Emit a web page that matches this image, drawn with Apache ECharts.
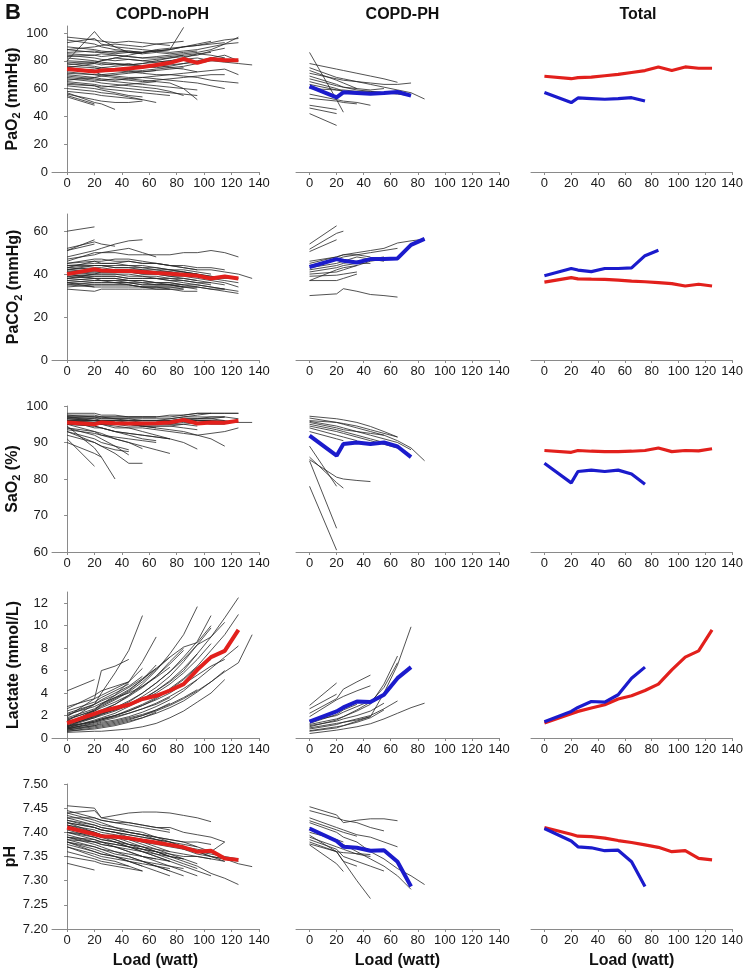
<!DOCTYPE html>
<html><head><meta charset="utf-8">
<script src="https://cdn.jsdelivr.net/npm/echarts@6/dist/echarts.min.js"></script>
<style>html,body{margin:0;padding:0;background:#fff}#c{width:746px;height:970px}</style>
</head><body><div id="c"></div>
<script>
// ---------- DATA ----------
const LOADS = [0, 20, 25, 35, 45, 55, 65, 75, 85, 95, 105, 115, 125, 135];
const X_TICKS = [0, 20, 40, 60, 80, 100, 120, 140];
const COLUMN_TITLES = ['COPD-noPH', 'COPD-PH', 'Total'];
const X_NAME = 'Load (watt)';

const PAO2_TICKS = [0, 20, 40, 60, 80, 100];
const PACO2_TICKS = [0, 20, 40, 60];
const SAO2_TICKS = [60, 70, 80, 90, 100];
const LACTATE_TICKS = [0, 2, 4, 6, 8, 10, 12];
const PH_TICKS = [7.20, 7.25, 7.30, 7.35, 7.40, 7.45, 7.50];

// group means (values at LOADS)
const PAO2_MEAN_NOPH = [74.1,72.2,73,73.5,74.5,75.5,77,78.5,81.3,78.5,81.3,80.3,80.3];
const PAO2_MEAN_PH = [61.6,53.7,57.3,56.8,56.3,56.8,57.5,54.9];
const PACO2_MEAN_NOPH = [40,42.3,41.7,41.5,41.4,41,40.5,40.2,39.7,39.2,38,38.9,38];
const PACO2_MEAN_PH = [43.3,47,46.2,45.4,47,47,47.3,53.6,56.4];
const SAO2_MEAN_NOPH = [95.5,95,95.5,95.3,95.2,95.2,95.3,95.5,96.2,95.2,95.5,95.4,96];
const SAO2_MEAN_PH = [91.9,86.4,89.6,90,89.6,90,88.9,86];
const LACTATE_MEAN_NOPH = [1.33,2.16,2.37,2.67,2.96,3.47,3.76,4.23,4.8,6.07,7.2,7.76,9.63];
const LACTATE_MEAN_PH = [1.45,2.37,2.72,3.25,3.2,3.85,5.33,6.31];
const PH_MEAN_NOPH = [7.41,7.396,7.392,7.391,7.388,7.383,7.379,7.374,7.369,7.36,7.362,7.346,7.343];
const PH_MEAN_PH = [7.408,7.382,7.37,7.368,7.362,7.363,7.339,7.288];

// individual patients (values at LOADS, each list runs until the last load reached)
const PAO2_NOPH = [
[93,96,92,90,89,88,87,88,90,91,93,95,96],[97,95,94,93,94,93,92,91],[80,101,95,90,86,85],
[90,88,87,86,87,86,87,88,104],[88,86,86,87,86,86,87,86,87,88,90,92,93],[86,87,86,85,86,85,86,85,86,87],
[85,84,83,84,83,82,83,84,85,86,88,92,97],[84,82,81,80,81,80,79,80,81,82,80,79,78,77],
[83,84,85,84,83,82,82,83,84,85,86],[82,80,79,78,77,78,79,80,82,85,84,82],
[80,79,78,77,78,76,75,76,78,80,82,84,80],[79,78,77,78,77,76,77,75,74,72],[78,76,75,74,73,72,73,74,75],
[77,79,80,82,81,80,81,82,83,84,87,89],[76,75,74,73,72,71,70,70,69,68,66,65,64],
[75,73,72,73,74,75,76,77,78,79],[74,72,70,69,68,68,67,66,65,64,62,60],[73,74,75,76,77,78,80,82,84],
[72,70,69,68,67,66,65,64,60,52],[71,70,70,71,72,73,74,75,76,78,80,82],[70,68,67,66,67,68,69,70,71,72,73,74,70],
[69,67,66,65,64,63,62,61,60,59],[68,66,66,67,66,65,66,67,68,69,70,70],[67,65,64,63,62,61,60,58,55],
[66,68,69,70,71,72,73],[65,63,62,61,60,59,58,57,56,55],[64,62,60,59,58,57,56,55],[63,62,61,62,63,64,65],
[62,60,59,57,55,54],[60,58,57,56,54,52,50],[58,56,55,54,53,52],[57,50,49,45],[55,49],[54,48],
[56,52,51,50,50,51],[88,90,91,92,91,90,92,93,94],[95,92,90,88,87,86,87,88,90,92,94],
[75,78,80,82,84,86,88,89,90,91,92,93]
];
const PAO2_PH = [
[86,52,43],[78,74,73,71,69,67,64.5],[75,68,67,65,63,61,59,57,52.5],[73,66,64,60],[71,67,66,65,64,63,63,64],
[69,63,61,59,58,57],[67,62,61,60,59,60],[65,60,58],[63,59,58,57,57,57,58],[60,59,59,58,58,57,56,55],
[56,52,51,50,48],[48,45],[46,42],[42,33.5],[53,51,50,49]
];
const PACO2_NOPH = [
[60,62],[51,56],[51,54],[52,55,54,53],[48,51,52,54,55.5,56],[47,49,50,51,52,50,48],
[46,50,50,50,49,49,49,49,50,50,51,50,48],[45,47,47,46,46,45,45,44,44,43,43,42],[45,46,45,45,44,44,43,42,42,41,40],
[44,45,45,45,46,45,45,44,43,42,42,41,40,38],[44,44,44,43,43,43,42,42,41,40],[43,44,44,44,44,43,43,42,41,40,39,38],
[43,42,42,42,41,41,41,40,40,39,38,37,36],[42,43,43,42,42,42,41,41,41,40],[42,41,41,41,41,40,40,39,39,38,37,36,34],
[41,42,42,42,42,41,41,40],[41,40,40,40,39,39,38,38,37,36,35],[40,41,41,41,41,41,41,41,40,40,39,38,38],
[40,39,39,39,38,38,38,37,36,35,34,33],[39,40,40,40,40,39,39,38,38,37],[39,38,38,38,37,37,36,36,35,35,34,33,32],
[38,39,39,39,38,38,38,37,37,36,36],[38,37,37,37,36,36,35,35,34,33],[37,38,38,38,37,37,36,36,35],
[37,36,36,36,36,35,35,35,34,34,33,32,31],[36,37,37,37,37,36,36,35,35,34],[36,35,35,35,35,34,34,34,33],
[35,36,36,36,36,35,35,35,34,34,33,33],[35,34,34,34,34,34,33,33,33],[34,35,35,35,35,34,34,34,34],
[33,32,33,33,33,33,33,33,32,32],[42,44,44,43,43,42,42,41,40,39,38],[38,40,41,41,41,40,40,39,38,37,36,35],
[40,38,37,36,35,34,34,33],[43,46,46,47,47,46,45,44,43,42],[36,34]
];
const PACO2_PH = [
[54,62.5],[51.6,59,60],[50.5,56],[30,30.8,33.2,32,30.5,30,29.3],[45,48,49,50,51,52,54.5,55.5,56.3],
[44,47,48,49,50,51,52],[46,48,49,49,48],[42,44,45,46,47,48],[41,43,44,45,45],[37,37,38,40],
[37,42,43,44],[40,41,42,44,46,47],[39,39.5,40,41],[43,45,46,48,47,46]
];
const SAO2_NOPH = [
[98,98,97.5,97.5,97,97,97,97,97.5,98,98,98,98],[97.5,97,97,97,97,97,97,97.5,97.5,98,98],
[97,97,97,96.5,96.5,96.5,96.5,96.5,97,97,97,97,96.5],[97,96.5,96.5,96.5,96.5,96,96,96,96.5,96.5,96.5,96,95.5,95.5],
[96.5,96.5,96,96,96,96,96,96,96.5,96.5,97,97],[96.5,96,96,96,95.5,95.5,95.5,96,96,96,96,95.5,95.5],
[96,96,96,95.5,95.5,95.5,95.5,95.5,96,96,96],[96,95.5,95.5,95.5,95,95,95,95,95.5,95.5,95,95],
[96,95.5,95,95,95,94.5,94.5,94.5,95,95.5,96],[95.5,95.5,95.5,95,95,95,95,95.5,96,96.5,96.5,97],
[95.5,95,95,94.5,94,94,93.5,93,92.5,92,92.5,93,94],[96,96,95.5,95,95,94.5,94,93.5,93,92,91,89],
[96,95,95,94,94,93,92,91,90,88.2],[95,94.5,94,93,92.5,92,91.5,91],[96,94,94,93,92,91,90.5],
[95,93,92.5,91,90,88.3],[94,92,91,89,86.6],[93,90,89,87,84.3,84.3],[94.5,88.5,86,80],[91,83.5],[90,87,86],
[93,91,90,89,88],[97,96,96,95.5,95,94.5,94],[95,94.5,94,93,92.5,92,91.5,91],
[96.5,96,96,96,96,95.5,95.5,95,95,94.5],[97.5,97.5,97,97,97,97,97],[95.5,95.5,95,95,95,95,95.5,95.5,96,96,96,96],
[94,93,92,91,90,89,88,87],[96,95,95,95,94.5,94.5,94.5,94.5,94,93.5],
[97,97,96.5,96.5,96,96,96,96.5,97,97.5,98,98,98],[92,90,89,88,87.5],[93.5,92.5,92,91.5,91,90.5,90]
];
const SAO2_PH = [
[97.2,96.5,96.2,95.5,94.4,93,91.5],[96.7,95.5,95,94,93,92,90.5,88.5,85],[96,95.5,95.2,94.5,93.5,92.5,91.5],
[95.8,94.5,94,93,92,91,90,88],[95.5,94,93.5,93,92.5,92],[95,93.5,93,92,91,90],[94.5,93,92.5,91.5,90.5,89.5,88.5],
[94,92,91.5,90.5],[93,91,90.5],[89,78],[85.3,80.5,80,79.6,79.3],[78,60.5],[85,66.5],[86,79,77.5]
];
const LACTATE_NOPH = [
[4.2,5.2],[1.5,3.0,4.0,5.8,7.8,10.9],[1.9,3.5,6.0,6.4,7.0],[1.2,2.5,3.0,3.8,5.0,6.8,9.0],
[1.0,2.0,2.4,3.0,3.8,4.8,6.0,7.5,9.2,11.7],[0.9,1.6,1.8,2.2,2.8,3.4,4.2,5.0,6.0,7.5,9.0,10.7,12.5],
[0.8,1.4,1.6,2.0,2.5,3.0,3.6,4.4,5.3,6.4,7.8,9.2,11],[0.8,1.3,1.5,1.8,2.2,2.6,3.1,3.7,4.4,5.2,6.2,7.2,8.2],
[0.7,1.1,1.2,1.4,1.7,2.0,2.4,2.9,3.5,4.2,5.0,5.9,6.7,9.2],[1.1,1.9,2.2,2.7,3.3,4.0,4.9,5.9,7.2,8.6,10.9],
[1.3,2.4,2.8,3.4,4.1,5.0,6.1,7.2,8.1,8.5,10],[1.0,1.8,2.1,2.5,3.0,3.7,4.5,5.5,6.8,8.3,9.8],
[0.9,1.5,1.7,2.0,2.4,2.9,3.4,4.0,4.8,5.6,6.4,7.0],[0.5,0.6,0.6,0.7,0.8,1.0,1.3,1.8,2.4,3.2,4.0,5.2],
[1.6,2.5,2.9,3.5,4.2,5.2,6.5],[2.0,3.0,3.4,4.0,4.6,5.5],[2.4,3.2,3.6,4.2,4.8],[1.8,2.6,3.0,3.6,4.3,5.2,6.2,7.2],
[2.6,3.8,4.2,4.6,5.0,6.2],[1.4,2.2,2.5,3.0,3.7,4.5,5.5,6.8,8.0],[1.2,1.8,2.0,2.4,2.9,3.5,4.2,5.1,6.2,7.5],
[1.0,1.5,1.7,2.0,2.4,2.9,3.5,4.3,5.2,6.3,7.0],[0.9,1.2,1.4,1.6,1.9,2.3,2.8,3.4,4.2,5.2],
[0.7,1.0,1.1,1.3,1.6,2.0,2.5,3.1],[0.6,0.8,0.9,1.1,1.4,1.8,2.3],[1.5,2.0,2.2,2.5,2.9,3.4,4.0,4.8,5.8,7.0,8.4],
[2.2,3.0,3.3,3.8,4.5,5.3,6.2],[1.7,2.4,2.7,3.2,3.8,4.6,5.5,6.6,7.8],[0.8,1.1,1.3,1.5,1.8,2.1,2.5,3.0,3.6,4.3],
[1.1,1.4,1.6,1.9,2.2,2.6,3.0,3.6],[2.8,3.5,3.8,4.4,5.0],[1.3,1.9,2.1,2.6,3.2,4.0,4.9,5.9,7.0,8.3,9.0,10.3],
[2.1,2.8,3.1,3.6,4.0,4.6,5.4,6.3],[0.6,0.9,1.0,1.2,1.5,1.8,2.2,2.7,3.3,4.1,5.0,6.0]
];
const LACTATE_PH = [
[2.9,4.9],[2.6,3.9],[2.2,3.5,4.35,5.0,5.6],[1.9,3.4,3.7,4.2,4.65],[0.9,1.3,1.4,1.6,1.9,4.0,6.5,9.9],
[1.2,1.7,1.9,2.4,3.0,4.8,7.3],[1.0,1.6,1.9,2.5,3.2,4.5,6.7],[0.4,0.7,0.8,1.0,1.27,1.7,2.2,2.7,3.1],
[0.65,1.0,1.1,1.5,1.9],[1.1,1.5,1.7,2.0,2.4,3.1],[0.8,1.2,1.4,1.7,2.0,2.6,3.3],[1.5,2.0,2.3,2.8,3.3],
[0.6,0.9,1.1,1.4,1.8,2.5],[1.3,2.1,2.5,3.0]
];
const PH_NOPH = [
[7.455,7.45,7.43,7.435,7.44,7.442,7.442,7.44,7.435,7.43,7.422],[7.336,7.322],
[7.41,7.4,7.395,7.39,7.38,7.37,7.36,7.35,7.34,7.33,7.315,7.305,7.292],
[7.42,7.41,7.405,7.4,7.395,7.39,7.385,7.38,7.37,7.36,7.35,7.345,7.335,7.329],
[7.445,7.43,7.425,7.42,7.415,7.41,7.405,7.4],[7.44,7.425,7.42,7.41,7.405,7.4,7.39,7.385,7.38,7.37],
[7.435,7.42,7.415,7.41,7.4,7.395,7.39,7.38,7.37,7.36,7.35,7.34],
[7.43,7.415,7.41,7.405,7.4,7.395,7.385,7.375,7.365,7.355,7.35,7.345,7.34],
[7.43,7.43,7.425,7.42,7.42,7.415,7.41,7.41,7.4,7.395,7.39,7.38],[7.425,7.41,7.405,7.4,7.39,7.38,7.37,7.36],
[7.42,7.41,7.405,7.4,7.395,7.39,7.385,7.38,7.375,7.37,7.36],[7.42,7.4,7.395,7.385,7.375,7.365,7.355,7.345,7.335,7.325],
[7.415,7.405,7.4,7.395,7.39,7.385,7.38,7.375,7.37,7.365,7.36,7.38],[7.41,7.395,7.39,7.385,7.375,7.37,7.36,7.35,7.345],
[7.41,7.4,7.39,7.38,7.37,7.36,7.35,7.34,7.33,7.32,7.31],[7.405,7.39,7.385,7.38,7.375,7.37,7.365,7.36,7.355,7.35,7.345,7.34],
[7.4,7.39,7.385,7.38,7.37,7.36,7.35,7.34],[7.4,7.385,7.38,7.37,7.36,7.35,7.34,7.33,7.32,7.31],
[7.395,7.38,7.375,7.37,7.365,7.36,7.355,7.35,7.345],[7.39,7.38,7.375,7.37,7.36,7.35,7.345,7.34],
[7.39,7.375,7.37,7.36,7.35,7.34,7.33,7.32,7.31],[7.385,7.37,7.365,7.36,7.355,7.35,7.345],
[7.38,7.37,7.365,7.355,7.35,7.34,7.33,7.32],[7.38,7.36,7.355,7.35,7.34,7.33],
[7.375,7.36,7.355,7.35,7.345,7.34,7.335,7.33,7.325],[7.37,7.355,7.35,7.345,7.34,7.33,7.32,7.31],
[7.37,7.35,7.345,7.34,7.33,7.32],[7.4,7.395,7.39,7.39,7.385,7.38,7.375,7.37,7.365,7.36,7.355,7.35,7.345],
[7.425,7.415,7.41,7.405,7.4,7.395,7.39,7.385,7.38,7.38,7.375],[7.44,7.445,7.43,7.425,7.42,7.415,7.41,7.405],
[7.415,7.4,7.395,7.39,7.385,7.375,7.365,7.355,7.345,7.335],[7.39,7.385,7.38,7.375,7.37,7.365,7.36,7.35],
[7.36,7.345,7.34,7.335,7.33],[7.35,7.34,7.335,7.33,7.325,7.32],[7.38,7.365,7.36,7.35,7.34,7.335,7.33,7.325],
[7.385,7.38,7.38,7.375,7.37,7.365,7.36,7.355,7.35,7.35,7.345]
];
const PH_PH = [
[7.453,7.436,7.42,7.425,7.428,7.428,7.424],[7.445,7.43,7.425,7.42,7.41,7.403],[7.424,7.405,7.4,7.392],
[7.42,7.4,7.39,7.38,7.36,7.345,7.325,7.31,7.292],[7.394,7.36,7.34,7.3,7.263],[7.374,7.335,7.319],
[7.376,7.36,7.358,7.356,7.354],[7.41,7.38,7.375,7.36,7.345,7.33,7.31,7.282],[7.43,7.41,7.405,7.395,7.39,7.38,7.37],
[7.39,7.37,7.365,7.355,7.35],[7.4,7.385,7.38],[7.385,7.365,7.35,7.34,7.33,7.32],[7.38,7.36,7.34,7.33]
];

// ---------- LAYOUT / STYLE ----------
const FONT = '"Liberation Sans", Arial, Helvetica, sans-serif';
const RED = '#e2201c', BLUE = '#1b1bcc', INDIV = '#262626', AXIS = '#8a8a8a';
const COLS = [
  {left: 52, width: 207, min: -11},
  {left: 296, width: 203, min: -10},
  {left: 531, width: 204, min: -10}
];
const ROWS = [
  {top: 26, height: 146, min: 0, max: 105, totalMin: 0, totalMax: 113, ticks: PAO2_TICKS, name: '{a|PaO}{s|2}{a| (mmHg)}',
   noph: PAO2_NOPH, ph: PAO2_PH, mNoph: PAO2_MEAN_NOPH, mPh: PAO2_MEAN_PH},
  {top: 214, height: 146, min: 0, max: 68, totalMin: 0, totalMax: 75, ticks: PACO2_TICKS, name: '{a|PaCO}{s|2}{a| (mmHg)}',
   noph: PACO2_NOPH, ph: PACO2_PH, mNoph: PACO2_MEAN_NOPH, mPh: PACO2_MEAN_PH},
  {top: 406, height: 146, min: 60, max: 100, totalMin: 67, totalMax: 108, ticks: SAO2_TICKS, name: '{a|SaO}{s|2}{a| (%)}',
   noph: SAO2_NOPH, ph: SAO2_PH, mNoph: SAO2_MEAN_NOPH, mPh: SAO2_MEAN_PH},
  {top: 592, height: 146, min: 0, max: 13, totalMin: 0, totalMax: 13, ticks: LACTATE_TICKS, name: '{a|Lactate (mmol/L)}',
   noph: LACTATE_NOPH, ph: LACTATE_PH, mNoph: LACTATE_MEAN_NOPH, mPh: LACTATE_MEAN_PH},
  {top: 784, height: 145, min: 7.2, max: 7.5, totalMin: 7.2, totalMax: 7.5, ticks: PH_TICKS, name: '{a|pH}', dec: 2,
   noph: PH_NOPH, ph: PH_PH, mNoph: PH_MEAN_NOPH, mPh: PH_MEAN_PH}
];

function pts(vals) { return vals.map((v, i) => [LOADS[i], v]); }

const grid = [], xAxis = [], yAxis = [], series = [];
ROWS.forEach((row, r) => {
  COLS.forEach((col, c) => {
    const gi = r * 3 + c;
    grid.push({left: col.left, width: col.width, top: row.top, height: row.height});
    xAxis.push({
      type: 'value', gridIndex: gi, min: col.min, max: 140,
      axisLine: {show: true, onZero: false, lineStyle: {color: AXIS, width: 1}},
      axisTick: {show: true, length: 3, customValues: X_TICKS, lineStyle: {color: AXIS}},
      axisLabel: {show: true, customValues: X_TICKS, color: '#1a1a1a', fontSize: 13, margin: 5, fontFamily: FONT},
      splitLine: {show: false},
      name: r === 4 ? X_NAME : '', nameLocation: 'middle', nameGap: 24,
      nameTextStyle: {fontSize: 16, fontWeight: 'bold', color: '#111', fontFamily: FONT}
    });
    const isTotal = c === 2;
    yAxis.push({
      type: 'value', gridIndex: gi,
      min: isTotal ? row.totalMin : row.min, max: isTotal ? row.totalMax : row.max,
      show: c === 0,
      axisLine: {show: true, lineStyle: {color: AXIS, width: 1}},
      axisTick: {show: true, length: 3, customValues: row.ticks, lineStyle: {color: AXIS}},
      axisLabel: {show: true, customValues: row.ticks, color: '#1a1a1a', fontSize: 13, margin: 4, fontFamily: FONT,
        formatter: v => row.dec ? Number(v).toFixed(row.dec) : String(v)},
      splitLine: {show: false},
      name: c === 0 ? row.name : '', nameLocation: 'middle', nameRotate: 90, nameGap: 28,
      nameTextStyle: {
        fontFamily: FONT, color: '#111',
        rich: {
          a: {fontSize: 16, fontWeight: 'bold', lineHeight: 20, fontFamily: FONT, color: '#111'},
          s: {fontSize: 11, fontWeight: 'bold', lineHeight: 11, verticalAlign: 'bottom', fontFamily: FONT, color: '#111'}
        }
      }
    });
    const base = {type: 'line', xAxisIndex: gi, yAxisIndex: gi, showSymbol: false, symbol: 'none', silent: true, animation: false};
    if (c === 0) row.noph.forEach(l => series.push(Object.assign({}, base, {data: pts(l), lineStyle: {color: INDIV, width: 0.8}, z: 2})));
    if (c === 1) row.ph.forEach(l => series.push(Object.assign({}, base, {data: pts(l), lineStyle: {color: INDIV, width: 0.8}, z: 2})));
    if (c === 0 || c === 2) series.push(Object.assign({}, base, {data: pts(row.mNoph), lineStyle: {color: RED, width: c === 0 ? 4 : 3.2}, z: 5}));
    if (c === 1 || c === 2) series.push(Object.assign({}, base, {data: pts(row.mPh), lineStyle: {color: BLUE, width: c === 1 ? 4 : 3.2}, z: 5}));
  });
});

const title = [{text: 'B', left: 0, top: -3, textStyle: {fontSize: 22, fontWeight: 'bold', color: '#111', fontFamily: FONT}}];
COLUMN_TITLES.forEach((t, c) => title.push({
  text: t, left: COLS[c].left + COLS[c].width / 2 + (c === 0 ? 2 : 0), top: 2, textAlign: 'center',
  textStyle: {fontSize: 16, fontWeight: 'bold', color: '#111', fontFamily: FONT}
}));

const chart = echarts.init(document.getElementById('c'), null, {renderer: 'canvas'});
chart.setOption({animation: false, backgroundColor: '#fff', title, grid, xAxis, yAxis, series});
</script>
</body></html>
